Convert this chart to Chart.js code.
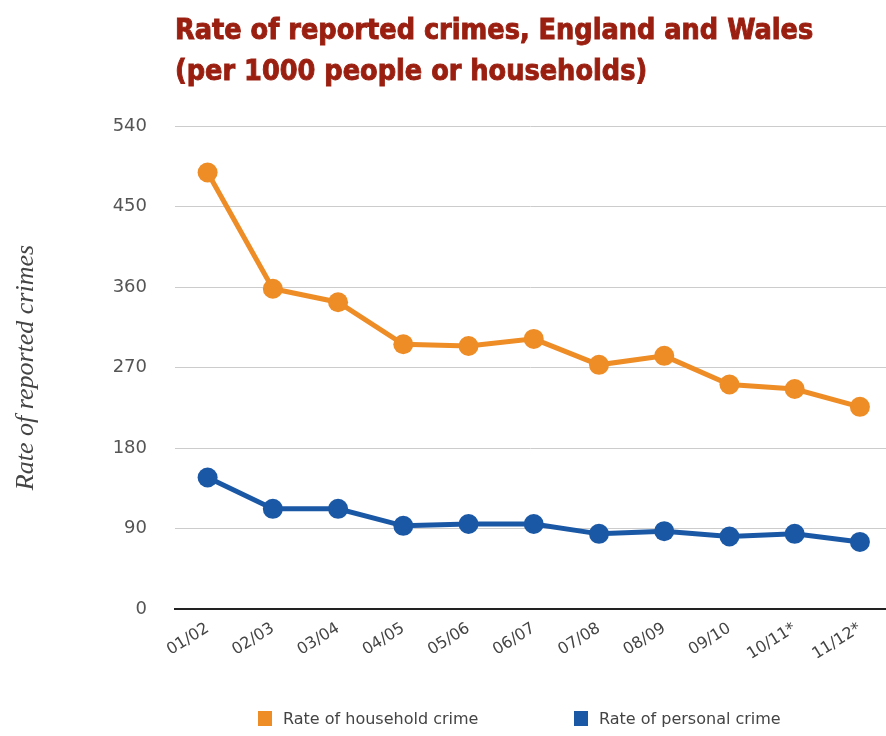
<!DOCTYPE html>
<html>
<head>
<meta charset="utf-8">
<script src="https://cdn.jsdelivr.net/npm/chart.js@4"></script>
<style>
  body { margin: 0; background: #fff; }
  #wrap { position: relative; width: 886px; height: 736px; }
  #title {
    position: absolute; left: 175px; top: 9px;
    font-family: "DejaVu Sans Condensed", "DejaVu Sans", sans-serif;
    font-weight: bold; font-size: 28.5px; line-height: 41px;
    color: #9a1f10; white-space: nowrap;
    -webkit-text-stroke: 0.9px #9a1f10;
  }
  #legend {
    position: absolute; top: 709px; left: 0; width: 886px; height: 24px;
    font-family: "DejaVu Sans", sans-serif; font-size: 16px; color: #444;
  }
  .item { position: absolute; top: 0; display: flex; align-items: center; }
  .box { width: 14px; height: 15px; margin-right: 11px; }
</style>
</head>
<body>
<div id="wrap">
  <canvas id="crimeRates" width="886" height="736"></canvas>
  <div id="title">Rate of reported crimes, England and Wales<br>(per 1000 people or households)</div>
  <div id="legend"></div>
</div>
<script>
// Data
const periods = ['01/02', '02/03', '03/04', '04/05', '05/06', '06/07', '07/08', '08/09', '09/10', '10/11*', '11/12*'];
const householdCrime = [488, 358, 343, 296, 294, 302, 273, 283, 251, 246, 226];
const personalCrime = [147, 112, 112, 93, 95, 95, 84, 87, 81, 84, 75];
const yTicks = [0, 90, 180, 270, 360, 450, 540];

const orange = '#ee8c26';
const blue = '#1a58a6';

const toPoints = values => values.map((v, i) => ({ x: i, y: v }));

const ctx = document.getElementById('crimeRates').getContext('2d');
const chart = new Chart(ctx, {
    type: 'line',
    data: {
        datasets: [{
            label: 'Rate of household crime',
            data: toPoints(householdCrime),
            borderColor: orange,
            backgroundColor: orange,
            borderWidth: 5,
            pointRadius: 10,
            pointBorderWidth: 0
        }, {
            label: 'Rate of personal crime',
            data: toPoints(personalCrime),
            borderColor: blue,
            backgroundColor: blue,
            borderWidth: 5,
            pointRadius: 10,
            pointBorderWidth: 0
        }]
    },
    options: {
        responsive: false,
        animation: false,
        layout: { autoPadding: false, padding: { top: 126, right: 0, bottom: 0, left: 0 } },
        plugins: {
            legend: { display: false },
            tooltip: { enabled: false }
        },
        scales: {
            x: {
                type: 'linear',
                min: -0.5,
                max: 10.4,
                afterBuildTicks: axis => { axis.ticks = periods.map((p, i) => ({ value: i })); },
                afterFit: scale => {
                    scale.height = 127;
                    scale.paddingLeft = 0;
                    scale.paddingRight = 0;
                },
                grid: { display: false },
                border: { display: true, color: '#222', width: 2 },
                ticks: {
                    autoSkip: false,
                    minRotation: 32,
                    maxRotation: 32,
                    padding: 2,
                    color: '#444',
                    font: { family: 'DejaVu Sans', size: 16 },
                    callback: value => periods[value]
                }
            },
            y: {
                min: 0,
                max: 540,
                afterBuildTicks: axis => { axis.ticks = yTicks.map(v => ({ value: v })); },
                afterFit: scale => { scale.width = 175; },
                grid: { color: '#cccccc', lineWidth: 1, drawTicks: false },
                border: { display: false },
                ticks: {
                    padding: 28,
                    color: '#555',
                    font: { family: 'DejaVu Sans', size: 18 }
                },
                title: {
                    display: true,
                    text: 'Rate of reported crimes',
                    color: '#444',
                    padding: { top: 11, bottom: 0 },
                    font: { family: 'Liberation Serif', style: 'italic', size: 26 }
                }
            }
        }
    }
});

// Legend built from the datasets
const legend = document.getElementById('legend');
const legendX = [258, 574];
chart.data.datasets.forEach((ds, i) => {
    const item = document.createElement('div');
    item.className = 'item';
    item.style.left = legendX[i] + 'px';
    item.innerHTML = '<span class="box" style="background:' + ds.borderColor + '"></span>' + ds.label;
    legend.appendChild(item);
});
</script>
</body>
</html>
